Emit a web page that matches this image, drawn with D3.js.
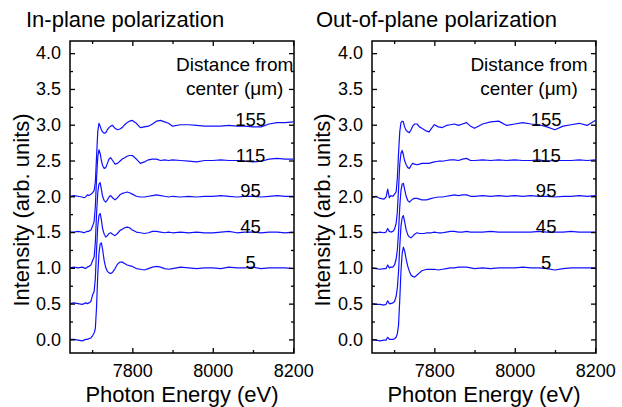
<!DOCTYPE html>
<html>
<head>
<meta charset="utf-8">
<script src="https://cdn.jsdelivr.net/npm/d3@7"></script>
<style>
  body { margin: 0; background: #fff; }
  svg text { font-family: "Liberation Sans", Arial, sans-serif; fill: #000; }
</style>
</head>
<body>
<div id="chart"></div>
<script>
// ===== data =====
// photon energy grid (eV), shared by every spectrum
const energy = [
  7645, 7655, 7665, 7675, 7680, 7684, 7688, 7692,
  7697, 7701, 7705, 7708, 7711, 7714, 7717, 7720,
  7723, 7726, 7730, 7734, 7738, 7742, 7746, 7751,
  7757, 7763, 7769, 7775, 7781, 7787, 7793, 7800,
  7810, 7820, 7830, 7840, 7850, 7860, 7870, 7880, 7890, 7900,
  7920, 7940, 7960, 7980, 8000, 8020, 8040, 8060, 8080, 8100, 8120, 8140, 8160, 8180, 8200
];

// distance from center (um) and vertical offset of each spectrum
const distances = ['5', '45', '95', '115', '155'];
const offsets = [0, 0.5, 1.0, 1.5, 2.0];

// normalized intensity, in-plane polarization
const inPlane5 = [
  0.00, 0.00, -0.01, -0.02, -0.01, 0.00, 0.00, 0.01,
  0.02, 0.05, 0.09, 0.15, 0.45, 0.90, 1.20, 1.33,
  1.35, 1.26, 1.10, 1.00, 0.95, 0.93, 0.92, 0.94,
  0.99, 1.05, 1.08, 1.08, 1.06, 1.04, 1.03, 1.02,
  0.99, 0.98, 0.97, 0.99, 1.01, 1.02, 1.01, 0.99, 0.98, 0.99,
  1.01, 1.00, 0.99, 1.00, 1.00, 0.99, 1.01, 1.00, 1.00, 1.01, 0.99, 1.00, 1.00, 1.00, 0.99
];
const inPlane45 = [
  0.00, 0.01, 0.00, -0.01, 0.00, 0.01, 0.00, 0.01,
  0.03, 0.12, 0.17, 0.35, 0.75, 1.08, 1.23, 1.26,
  1.17, 1.05, 0.97, 0.93, 0.95, 0.98, 0.99, 0.97,
  0.95, 0.98, 1.02, 1.04, 1.06, 1.07, 1.06, 1.03,
  1.00, 0.99, 0.98, 0.99, 1.01, 1.01, 1.00, 0.99, 1.00, 0.99,
  1.00, 0.99, 1.00, 0.99, 0.99, 1.00, 1.01, 0.99, 1.00, 1.00, 0.99, 1.00, 1.00, 0.99, 1.00
];
const inPlane95 = [
  0.00, 0.01, 0.00, 0.01, 0.00, -0.01, 0.01, 0.02,
  0.04, 0.10, 0.15, 0.35, 0.75, 1.05, 1.17, 1.19,
  1.10, 1.00, 0.94, 0.92, 0.95, 0.99, 1.01, 0.98,
  0.95, 0.98, 1.02, 1.04, 1.05, 1.06, 1.05, 1.03,
  1.00, 0.99, 0.99, 1.00, 1.01, 1.02, 1.01, 1.00, 0.99, 1.00,
  0.99, 1.00, 0.99, 1.00, 1.00, 1.01, 1.00, 0.99, 1.00, 1.00, 0.99, 1.00, 1.01, 1.00, 1.00
];
const inPlane115 = [
  0.00, 0.00, 0.01, 0.00, -0.01, 0.00, 0.01, 0.01,
  0.03, 0.08, 0.15, 0.35, 0.75, 1.05, 1.15, 1.10,
  1.00, 0.93, 0.89, 0.90, 0.96, 1.02, 1.04, 1.00,
  0.95, 0.96, 0.99, 1.02, 1.04, 1.06, 1.07, 1.07,
  1.02, 0.96, 0.98, 1.01, 1.02, 1.02, 1.00, 1.01, 1.00, 1.01,
  1.00, 0.99, 0.98, 1.00, 1.00, 1.01, 1.00, 1.00, 0.99, 0.98, 0.99, 1.02, 1.03, 1.02, 1.02
];
const inPlane155 = [
  0.00, 0.01, 0.00, -0.01, -0.02, -0.01, 0.02, 0.01,
  0.03, 0.05, 0.08, 0.20, 0.55, 0.90, 1.02, 0.98,
  0.93, 0.90, 0.88, 0.89, 0.93, 0.96, 0.98, 0.99,
  0.95, 0.93, 0.94, 0.96, 1.00, 1.03, 1.05, 1.06,
  1.02, 0.96, 0.97, 0.98, 1.01, 1.05, 1.06, 1.04, 1.02, 0.98,
  1.00, 1.00, 0.99, 0.98, 0.98, 0.98, 0.99, 0.98, 0.98, 0.97, 0.97, 1.01, 1.03, 1.03, 1.04
];

// normalized intensity, out-of-plane polarization
const outPlane5 = [
  0.00, -0.01, -0.02, -0.01, -0.01, 0.03, 0.00, 0.00,
  0.00, 0.01, 0.03, 0.08, 0.20, 0.55, 0.95, 1.20,
  1.29, 1.24, 1.12, 1.02, 0.95, 0.90, 0.88, 0.87,
  0.90, 0.93, 0.96, 0.97, 0.98, 0.98, 0.98, 0.98,
  0.97, 0.98, 0.99, 1.00, 1.00, 1.01, 1.01, 1.01, 1.00, 0.99,
  1.00, 0.99, 1.00, 1.00, 1.00, 1.01, 1.00, 1.00, 0.99, 0.97, 0.99, 1.00, 1.00, 1.00, 1.00
];
const outPlane45 = [
  0.00, -0.01, -0.01, -0.02, -0.01, 0.04, 0.00, 0.00,
  0.01, 0.03, 0.10, 0.22, 0.45, 0.80, 1.08, 1.20,
  1.23, 1.15, 1.03, 0.96, 0.93, 0.92, 0.94, 0.97,
  0.99, 0.98, 0.98, 0.98, 0.99, 0.99, 0.99, 1.00,
  0.99, 0.99, 1.00, 1.01, 1.01, 1.00, 1.00, 1.01, 1.00, 1.00,
  1.00, 1.01, 1.00, 1.00, 1.00, 1.00, 1.00, 1.01, 1.00, 1.00, 1.00, 1.01, 1.00, 1.00, 1.00
];
const outPlane95 = [
  0.00, -0.01, -0.02, -0.01, -0.01, 0.04, 0.00, 0.01,
  0.01, 0.04, 0.12, 0.25, 0.50, 0.85, 1.08, 1.17,
  1.18, 1.10, 1.00, 0.94, 0.92, 0.94, 0.96, 0.97,
  0.97, 0.96, 0.95, 0.95, 0.95, 0.96, 0.97, 0.98,
  0.99, 0.99, 1.00, 1.01, 1.02, 1.01, 1.02, 1.02, 1.00, 1.00,
  1.01, 1.00, 1.01, 1.00, 1.01, 1.00, 1.01, 1.00, 1.00, 0.99, 1.00, 1.00, 1.01, 1.00, 1.01
];
const outPlane115 = [
  0.00, -0.01, 0.00, -0.01, 0.00, 0.05, 0.01, 0.00,
  0.01, 0.04, 0.12, 0.28, 0.60, 0.95, 1.10, 1.14,
  1.08, 1.00, 0.94, 0.90, 0.89, 0.93, 0.96, 0.95,
  0.94, 0.95, 0.96, 0.96, 0.96, 0.96, 0.97, 0.98,
  0.99, 0.99, 1.00, 1.01, 1.01, 1.00, 1.02, 1.03, 1.00, 1.00,
  1.01, 1.00, 1.01, 1.00, 1.01, 1.00, 1.00, 1.01, 0.99, 1.00, 1.00, 1.00, 1.01, 1.00, 1.01
];
const outPlane155 = [
  -0.02, 0.00, -0.03, -0.04, -0.01, 0.10, -0.02, 0.01,
  0.00, 0.03, 0.06, 0.25, 0.60, 0.90, 1.03, 1.05,
  1.04, 0.97, 0.92, 0.90, 0.89, 0.93, 0.98, 1.01,
  1.01, 0.97, 0.95, 0.93, 0.91, 0.90, 0.95, 1.00,
  0.97, 0.96, 0.99, 1.00, 1.01, 0.99, 1.01, 1.03, 0.98, 0.95,
  1.01, 1.04, 1.05, 0.99, 1.01, 1.03, 1.01, 1.00, 0.97, 0.93, 0.98, 1.00, 1.02, 0.99, 1.06
];

// axis ticks
const xMajorTicks = [7800, 8000, 8200];
const xMinorTicks = [7700, 7900, 8100];
const yMajorTicks = [0, 0.5, 1.0, 1.5, 2.0, 2.5, 3.0, 3.5, 4.0];
const yMinorTicks = [0.25, 0.75, 1.25, 1.75, 2.25, 2.75, 3.25, 3.75];

// ===== layout =====
const W = 622, H = 407;
const plotTop = 41, plotW = 224, plotH = 312;
const panels = [
  { left: 70, title: 'In-plane polarization', titleX: 26, ylabX: 28.5, annX: 234.7, labelE: 8094,
    series: [inPlane5, inPlane45, inPlane95, inPlane115, inPlane155] },
  { left: 372, title: 'Out-of-plane polarization', titleX: 316, ylabX: 329.5, annX: 529, labelE: 8078,
    series: [outPlane5, outPlane45, outPlane95, outPlane115, outPlane155] }
];

const svg = d3.select('#chart')
  .append('svg')
  .attr('width', W)
  .attr('height', H);

const fmt = d3.format('.1f');

panels.forEach((p, pi) => {
  const x = d3.scaleLinear().domain([7645, 8202]).range([0, plotW]);
  const y = d3.scaleLinear().domain([-0.19, 4.17]).range([plotH, 0]);

  // title above the frame
  svg.append('text')
    .attr('x', p.titleX)
    .attr('y', 27)
    .attr('font-size', '22px')
    .text(p.title);

  const g = svg.append('g').attr('transform', `translate(${p.left},${plotTop})`);

  // clip so that the spectra stay inside the frame
  g.append('clipPath').attr('id', `clip-${pi}`)
    .append('rect').attr('width', plotW).attr('height', plotH);

  const line = d3.line()
    .x((d, i) => x(energy[i]))
    .y(d => y(d));

  // spectra (offset by 0.5 each)
  p.series.forEach((s, si) => {
    g.append('path')
      .datum(s.map(v => v + offsets[si]))
      .attr('d', line)
      .attr('fill', 'none')
      .attr('stroke', '#1010ff')
      .attr('stroke-width', 1.2)
      .attr('stroke-linejoin', 'round')
      .attr('clip-path', `url(#clip-${pi})`);

    // distance label sitting on the post-edge level
    g.append('text')
      .attr('x', x(p.labelE))
      .attr('y', y(offsets[si] + 1) + 1)
      .attr('text-anchor', 'middle')
      .attr('font-size', '18.5px')
      .text(distances[si]);
  });

  // legend-like annotation
  g.append('text')
    .attr('x', p.annX - p.left)
    .attr('y', 70.7 - plotTop)
    .attr('text-anchor', 'middle')
    .attr('font-size', '19px')
    .text('Distance from');
  g.append('text')
    .attr('x', p.annX - p.left)
    .attr('y', 95 - plotTop)
    .attr('text-anchor', 'middle')
    .attr('font-size', '19px')
    .text('center (μm)');

  // axes: ticks point inward, mirrored on top and right
  g.append('g').attr('transform', `translate(0,${plotH})`)
    .call(d3.axisBottom(x).tickValues(xMajorTicks).tickSizeInner(-5).tickSizeOuter(0)
      .tickPadding(11).tickFormat(d3.format('d')));
  g.append('g').attr('transform', `translate(0,${plotH})`)
    .call(d3.axisBottom(x).tickValues(xMinorTicks).tickSizeInner(-3).tickSizeOuter(0).tickFormat(''));
  g.append('g')
    .call(d3.axisTop(x).tickValues(xMajorTicks).tickSizeInner(-5).tickSizeOuter(0).tickFormat(''));
  g.append('g')
    .call(d3.axisTop(x).tickValues(xMinorTicks).tickSizeInner(-3).tickSizeOuter(0).tickFormat(''));

  g.append('g')
    .call(d3.axisLeft(y).tickValues(yMajorTicks).tickSizeInner(-5).tickSizeOuter(0)
      .tickPadding(9).tickFormat(fmt));
  g.append('g')
    .call(d3.axisLeft(y).tickValues(yMinorTicks).tickSizeInner(-3).tickSizeOuter(0).tickFormat(''));
  g.append('g').attr('transform', `translate(${plotW},0)`)
    .call(d3.axisRight(y).tickValues(yMajorTicks).tickSizeInner(-5).tickSizeOuter(0).tickFormat(''));
  g.append('g').attr('transform', `translate(${plotW},0)`)
    .call(d3.axisRight(y).tickValues(yMinorTicks).tickSizeInner(-3).tickSizeOuter(0).tickFormat(''));

  g.selectAll('.domain').remove();
  g.selectAll('.tick line').attr('stroke', '#000').attr('stroke-width', 1.3);
  g.selectAll('.tick text')
    .attr('font-size', '18px')
    .attr('font-family', '"Liberation Sans", Arial, sans-serif')
    .attr('fill', '#000');

  // frame
  g.append('rect')
    .attr('width', plotW)
    .attr('height', plotH)
    .attr('fill', 'none')
    .attr('stroke', '#000')
    .attr('stroke-width', 1.5);

  // axis titles
  svg.append('text')
    .attr('x', p.left + plotW / 2)
    .attr('y', 401.5)
    .attr('text-anchor', 'middle')
    .attr('font-size', '22px')
    .text('Photon Energy (eV)');
  svg.append('text')
    .attr('transform', `translate(${p.ylabX},210) rotate(-90)`)
    .attr('text-anchor', 'middle')
    .attr('font-size', '22px')
    .text('Intensity (arb. units)');
});
</script>
</body>
</html>
